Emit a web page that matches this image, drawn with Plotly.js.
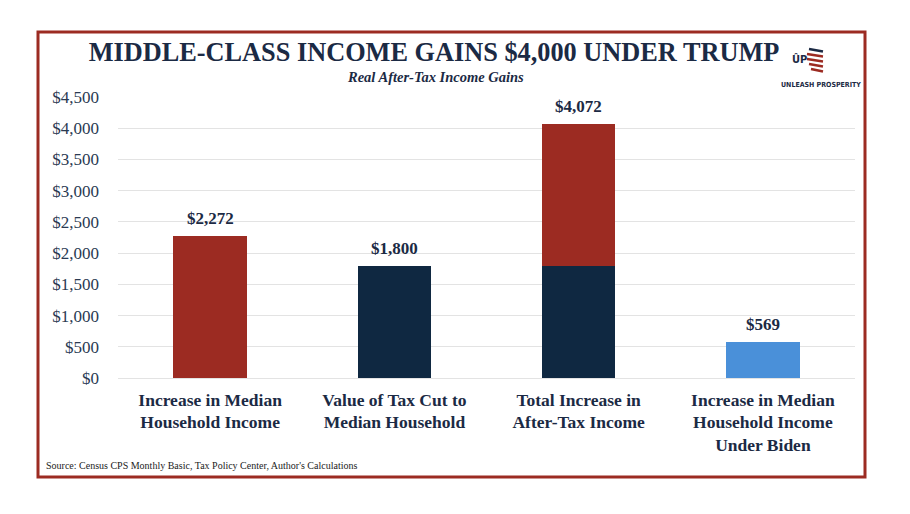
<!DOCTYPE html>
<html>
<head>
<meta charset="utf-8">
<script src="https://cdn.plot.ly/plotly-3.0.1.min.js"></script>
<style>html,body{margin:0;padding:0;background:#fff;}#chart{width:910px;height:514px;}</style>
</head>
<body>
<div id="chart"></div>
<script>
var categories = ["Increase in Median<br>Household Income", "Value of Tax Cut to<br>Median Household", "Total Increase in<br>After-Tax Income", "Increase in Median<br>Household Income<br>Under Biden"];
var taxCutValues = [null, 1800, 1800, null];
var incomeValues = [2272, null, 2272, null];
var bidenValues = [null, null, null, 569];
var totals = [2272, 1800, 4072, 569];
var yTickValues = [0, 500, 1000, 1500, 2000, 2500, 3000, 3500, 4000, 4500];

var RED = "#9c2b22", NAVY = "#0f2841", BLUE = "#4a90d9", TXT = "#1b2a44";

// pixel -> paper helpers (plot area: x 118..855, y 97..378)
var L = 118, R = 855, T = 97, B = 378;
function px(x){ return (x - L) / (R - L); }
function py(y){ return (B - y) / (B - T); }

var traces = [
  {type: "bar", x: categories, y: taxCutValues, marker: {color: NAVY, line: {width: 0}}, width: 0.4, hoverinfo: "y"},
  {type: "bar", x: categories, y: incomeValues, marker: {color: RED, line: {width: 0}}, width: 0.4, hoverinfo: "y"},
  {type: "bar", x: categories, y: bidenValues, marker: {color: BLUE, line: {width: 0}}, width: 0.4, hoverinfo: "y"}
];

var annotations = totals.map(function(v, i){
  return {x: categories[i], y: v, xref: "x", yref: "y", text: "$" + v.toLocaleString("en-US"),
    showarrow: false, yanchor: "bottom", yshift: 6,
    font: {family: "Liberation Serif, serif", size: 17, color: TXT, weight: 700}};
});
annotations.push({xref: "paper", yref: "paper", x: px(435), y: py(77), text: "<i>Real After-Tax Income Gains</i>",
  showarrow: false, xanchor: "center", yanchor: "middle",
  font: {family: "Liberation Serif, serif", size: 14.5, color: TXT, weight: 700}});
annotations.push({xref: "paper", yref: "paper", x: px(44), y: py(465), text: "Source: Census CPS Monthly Basic, Tax Policy Center, Author's Calculations",
  showarrow: false, xanchor: "left", yanchor: "middle",
  font: {family: "Liberation Serif, serif", size: 10, color: "#222"}});
annotations.push({xref: "paper", yref: "paper", x: px(821), y: py(85), text: "UNLEASH PROSPERITY",
  showarrow: false, xanchor: "center", yanchor: "middle",
  font: {family: "'DejaVu Sans Condensed', 'Liberation Sans Narrow', Roboto, sans-serif", size: 7, color: "#1b2a44", weight: 700}});
annotations.push({xref: "paper", yref: "paper", x: px(799), y: py(59), text: "ÛP",
  showarrow: false, xanchor: "center", yanchor: "middle",
  font: {family: "'DejaVu Sans Condensed', 'Liberation Sans Narrow', Roboto, sans-serif", size: 11, color: "#1b2a44", weight: 700}});

var shapes = [
  {type: "rect", xref: "paper", yref: "paper", x0: px(38), x1: px(865), y0: py(477), y1: py(32),
   line: {color: RED, width: 3}, fillcolor: "rgba(0,0,0,0)", layer: "above"}
];
// logo stripes
[[49,809,823],[54,807,823],[59,807,823],[64,809,823],[69,811,823]].forEach(function(s, i){
  shapes.push({type: "line", xref: "paper", yref: "paper", x0: px(s[1]), x1: px(s[2]), y0: py(s[0]), y1: py(s[0] + 2.5),
    line: {color: i === 0 ? "#1b2a44" : RED, width: 2.5}});
});

var layout = {
  width: 910, height: 514,
  margin: {l: L, r: 910 - R, t: T, b: 514 - B, pad: 0},
  paper_bgcolor: "#fff", plot_bgcolor: "#fff",
  barmode: "stack",
  bargap: 0.6,
  showlegend: false,
  title: {text: "<b>MIDDLE-CLASS INCOME GAINS $4,000 UNDER TRUMP</b>", xref: "container", yref: "container",
    x: 434 / 910, xanchor: "center", y: 1 - 52 / 514, yanchor: "middle",
    font: {family: "Liberation Serif, serif", size: 26.3, color: TXT}},
  xaxis: {type: "category", showgrid: false, zeroline: false, showline: false, ticks: "", ticklabelstandoff: 9,
    tickfont: {family: "Liberation Serif, serif", size: 17.5, color: TXT, weight: 700}, fixedrange: true},
  yaxis: {range: [0, 4500], tickvals: yTickValues, ticktext: yTickValues.map(function(v){ return "$" + v.toLocaleString("en-US"); }),
    showgrid: true, gridcolor: "#e3e3e3", gridwidth: 1, zeroline: true, zerolinecolor: "#e3e3e3", zerolinewidth: 1,
    showline: false, ticks: "", ticklabelstandoff: 18,
    tickfont: {family: "Liberation Serif, serif", size: 17, color: "#2a3a52"}, fixedrange: true},
  annotations: annotations,
  shapes: shapes
};

Plotly.newPlot("chart", traces, layout, {displayModeBar: false, staticPlot: true});
</script>
</body>
</html>
